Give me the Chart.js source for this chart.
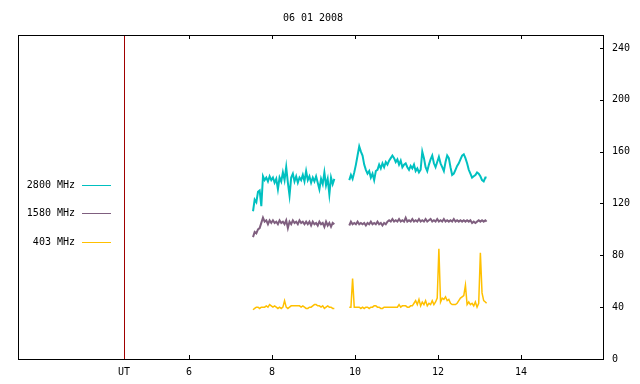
<!DOCTYPE html>
<html>
<head>
<meta charset="utf-8">
<script src="https://cdn.jsdelivr.net/npm/chart.js@4.4.0/dist/chart.umd.min.js"></script>
<style>
  html, body { margin: 0; padding: 0; background: #fff; }
</style>
</head>
<body>
<canvas id="chart" width="640" height="384"></canvas>
<script>
// UT hours of the samples (null row at 9.68 = data gap)
const times = [
  7.54, 7.58, 7.62, 7.66, 7.70, 7.74, 7.78, 7.82, 7.86, 7.90,
  7.94, 7.98, 8.02, 8.06, 8.10, 8.14, 8.18, 8.22, 8.26, 8.30,
  8.34, 8.38, 8.42, 8.46, 8.50, 8.54, 8.58, 8.62, 8.66, 8.70,
  8.74, 8.78, 8.82, 8.86, 8.90, 8.94, 8.98, 9.02, 9.06, 9.10,
  9.14, 9.18, 9.22, 9.26, 9.30, 9.34, 9.38, 9.42, 9.46, 9.50,
  9.68,
  9.86, 9.90, 9.94, 9.98, 10.02, 10.06, 10.10, 10.14, 10.18, 10.22,
  10.26, 10.30, 10.34, 10.38, 10.42, 10.46, 10.50, 10.54, 10.58, 10.62,
  10.66, 10.70, 10.74, 10.78, 10.82, 10.86, 10.90, 10.94, 10.98, 11.02,
  11.06, 11.10, 11.14, 11.18, 11.22, 11.26, 11.30, 11.34, 11.38, 11.42,
  11.46, 11.50, 11.54, 11.58, 11.62, 11.66, 11.70, 11.74, 11.78, 11.82,
  11.86, 11.90, 11.94, 11.98, 12.02, 12.06, 12.10, 12.14, 12.18, 12.22,
  12.26, 12.30, 12.34, 12.38, 12.42, 12.46, 12.50, 12.54, 12.58, 12.62,
  12.66, 12.70, 12.74, 12.78, 12.82, 12.86, 12.90, 12.94, 12.98, 13.02,
  13.06, 13.10, 13.14, 13.17
];

const flux2800 = [
  114, 123, 121, 129, 130, 118, 141, 138, 140, 137,
  141, 138, 140, 136, 139, 131, 140, 137, 144, 138,
  148, 136, 126, 140, 143, 137, 141, 136, 140, 138,
  142, 137, 145, 138, 141, 136, 140, 137, 141, 136,
  131, 139, 135, 144, 134, 139, 127, 140, 135, 139,
  null,
  138, 142, 139, 144, 150, 157, 164, 160, 157, 150,
  146, 143, 145, 140, 143, 138, 145, 146, 150, 147,
  151, 148, 152, 150, 153, 155, 157, 155, 152, 154,
  150, 153, 148, 150, 151, 148, 146, 149, 147, 150,
  145, 147, 144, 146, 160, 155, 148, 145, 150, 154,
  157, 151, 148, 152, 156, 151, 148, 145, 152, 157,
  155, 148, 142, 143, 146, 149, 151, 154, 157, 158,
  155, 151, 146, 143, 140, 141, 142, 144, 143, 141,
  138, 137, 140, 140
];

const flux1580 = [
  94, 98, 97, 100, 101, 105, 109, 106, 107, 104,
  107, 105, 107, 105, 106, 104, 107, 105, 106, 104,
  107, 101, 106, 104, 107, 105, 106, 104, 107, 105,
  106, 104, 106, 104, 106, 103, 106, 104, 105, 103,
  106, 104, 105, 102, 106, 103, 105, 102, 105, 104,
  null,
  103, 106, 104, 105, 104, 106, 104, 105, 104, 105,
  103, 105, 104, 106, 104, 105, 104, 106, 104, 105,
  103, 105, 104, 106, 107, 106, 108, 106, 107, 106,
  108, 106, 107, 106, 109, 106, 107, 106, 108, 106,
  107, 106, 108, 106, 107, 106, 108, 106, 107, 108,
  106, 107, 106, 108, 106, 107, 106, 108, 106, 107,
  106, 107, 106, 108, 106, 107, 106, 107, 106, 107,
  106, 107, 106, 107, 105, 106, 105, 106, 107, 106,
  107, 106, 107, 106
];

const flux403 = [
  38, 39, 40, 40, 39, 40, 40, 40, 41, 40,
  42, 41, 40, 41, 40, 39, 40, 39, 40, 45,
  40, 39, 40, 41, 41, 41, 41, 41, 41, 40,
  41, 40, 39, 39, 40, 40, 41, 42, 42, 41,
  41, 40, 41, 39, 40, 41, 40, 40, 39, 39,
  null,
  40, 40, 62, 40, 40, 40, 40, 39, 40, 39,
  40, 40, 39, 40, 40, 41, 41, 40, 40, 39,
  39, 40, 40, 40, 40, 40, 40, 40, 40, 40,
  42, 40, 41, 41, 41, 40, 40, 41, 41, 43,
  45, 42, 46, 41, 44, 42, 45, 41, 43, 42,
  45, 42, 44, 47, 85, 44, 47, 46, 48, 45,
  46, 43, 42, 42, 42, 43, 45, 47, 48, 49,
  57, 42, 44, 42, 43, 41, 44, 40, 43, 82,
  51, 45, 44, 43
];

const seriesNames = ['2800 MHz', '1580 MHz', '403 MHz'];
const seriesColors = ['#00c0c0', '#7f5f7f', '#ffc000'];
const hourTicks = [6, 8, 10, 12, 14];
const fluxTicks = [0, 40, 80, 120, 160, 200, 240];
const utHour = 4.43;
const utLabel = 'UT';
const chartTitle = '06 01 2008';

const font = { family: 'DejaVu Sans Mono', size: 10 };

const toPoints = (vals) => times.map((t, i) => ({ x: t, y: vals[i] }));

// frame, inward ticks, UT marker, title and legend in gnuplot style
const framePlugin = {
  id: 'frame',
  afterDraw(chart) {
    const { ctx, chartArea: a, scales } = chart;
    ctx.save();
    ctx.strokeStyle = '#000';
    ctx.lineWidth = 1;
    ctx.strokeRect(a.left + 0.5, a.top + 0.5, a.right - a.left - 1, a.bottom - a.top);

    ctx.beginPath();
    hourTicks.forEach((h) => {
      const x = Math.round(scales.x.getPixelForValue(h)) + 0.5;
      ctx.moveTo(x, a.bottom);
      ctx.lineTo(x, a.bottom - 4);
      ctx.moveTo(x, a.top);
      ctx.lineTo(x, a.top + 4);
    });
    fluxTicks.forEach((v) => {
      const y = Math.round(scales.y.getPixelForValue(v)) + 0.5;
      ctx.moveTo(a.right, y);
      ctx.lineTo(a.right - 4, y);
    });
    ctx.stroke();

    const ux = Math.round(scales.x.getPixelForValue(utHour)) + 0.5;
    ctx.strokeStyle = '#a00000';
    ctx.beginPath();
    ctx.moveTo(ux, a.top + 1);
    ctx.lineTo(ux, a.bottom);
    ctx.stroke();

    ctx.font = '10px "DejaVu Sans Mono"';
    ctx.fillStyle = '#000';
    ctx.textBaseline = 'middle';
    ctx.textAlign = 'center';
    ctx.fillText(chartTitle, 313, 18);

    ctx.textAlign = 'right';
    const legendY = [185, 213, 242];
    seriesNames.forEach((name, i) => {
      ctx.fillStyle = '#000';
      ctx.fillText(name, 75, legendY[i]);
      ctx.strokeStyle = seriesColors[i];
      ctx.beginPath();
      ctx.moveTo(82, legendY[i] + 0.5);
      ctx.lineTo(111, legendY[i] + 0.5);
      ctx.stroke();
    });
    ctx.restore();
  }
};

new Chart(document.getElementById('chart'), {
  type: 'line',
  data: {
    datasets: seriesNames.map((name, i) => ({
      label: name,
      data: toPoints([flux2800, flux1580, flux403][i]),
      borderColor: seriesColors[i],
      borderWidth: i === 2 ? 1.5 : 2,
      pointRadius: 0,
      tension: 0,
      spanGaps: false
    }))
  },
  options: {
    responsive: false,
    animation: false,
    devicePixelRatio: 1,
    layout: { padding: { left: 18, top: 35, right: 0, bottom: 0 } },
    plugins: { legend: { display: false }, tooltip: { enabled: false } },
    scales: {
      x: {
        type: 'linear',
        min: 1.875,
        max: 16,
        grid: { display: false, drawTicks: false },
        border: { display: false },
        afterBuildTicks: (s) => { s.ticks = [utHour, ...hourTicks].map((v) => ({ value: v })); },
        afterFit: (s) => { s.height = 25; },
        ticks: {
          autoSkip: false,
          maxRotation: 0,
          padding: 7,
          color: '#000',
          font,
          callback: (v) => (v === utHour ? utLabel : String(v))
        }
      },
      y: {
        type: 'linear',
        position: 'right',
        min: 0,
        max: 250,
        grid: { display: false, drawTicks: false },
        border: { display: false },
        afterBuildTicks: (s) => { s.ticks = fluxTicks.map((v) => ({ value: v })); },
        afterFit: (s) => { s.width = 36; },
        ticks: { padding: 8, color: '#000', font }
      }
    }
  },
  plugins: [framePlugin]
});
</script>
</body>
</html>
